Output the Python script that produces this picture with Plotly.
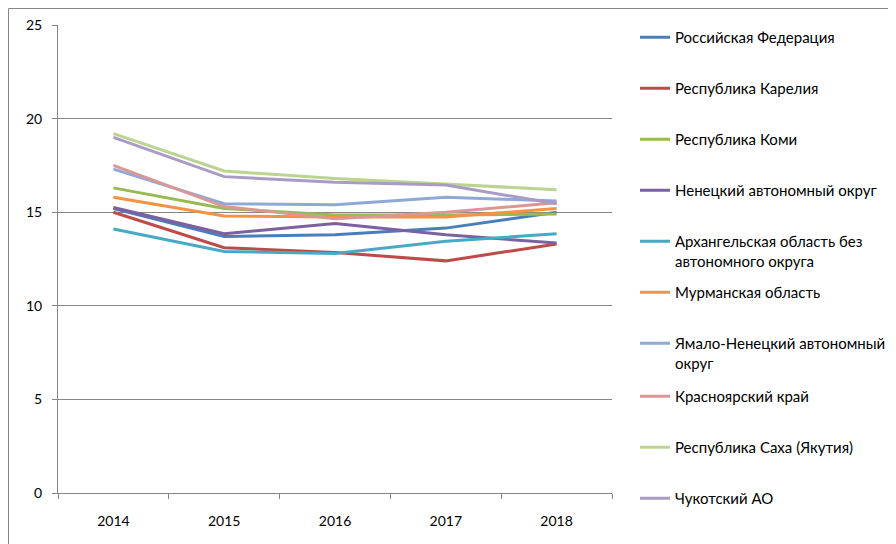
import plotly.graph_objects as go

years = ["2014", "2015", "2016", "2017", "2018"]

names = [
    "Российская Федерация",
    "Республика Карелия",
    "Республика Коми",
    "Ненецкий автономный округ",
    "Архангельская область без<br>автономного округа",
    "Мурманская область",
    "Ямало-Ненецкий автономный<br>округ",
    "Красноярский край",
    "Республика Саха (Якутия)",
    "Чукотский АО",
]

rf = [15.2, 13.7, 13.8, 14.15, 15.0]
karelia = [15.0, 13.1, 12.85, 12.4, 13.3]
komi = [16.3, 15.2, 14.85, 14.85, 14.9]
nenets = [15.25, 13.85, 14.4, 13.8, 13.35]
arkh = [14.1, 12.9, 12.8, 13.45, 13.85]
murmansk = [15.8, 14.8, 14.75, 14.75, 15.2]
yamal = [17.3, 15.45, 15.4, 15.8, 15.6]
krasnoyarsk = [17.5, 15.3, 14.65, 15.0, 15.5]
sakha = [19.2, 17.2, 16.8, 16.5, 16.2]
chukotka = [19.0, 16.9, 16.6, 16.45, 15.45]

series = [rf, karelia, komi, nenets, arkh, murmansk, yamal, krasnoyarsk, sakha, chukotka]

colors = ["#4A7EBB", "#BE4B48", "#98B954", "#7D60A0", "#46AAC5",
          "#F69240", "#8EA9D8", "#DB9794", "#BCD492", "#AA9BC6"]

# legend entry rows (page pixel y of first text line centre)
legend_rows = [38, 89, 140, 191, 242, 293, 344, 397, 448, 499]

FONT = "Lato"
W, H = 888, 536   # page body has an 8px default margin

fig = go.Figure()
layout_legends = {}
for i, (name, vals, col, row) in enumerate(zip(names, series, colors, legend_rows)):
    key = "legend" if i == 0 else f"legend{i + 1}"
    fig.add_trace(go.Scatter(
        x=years, y=vals, name=name, mode="lines",
        line=dict(color=col, width=3), legend=key,
    ))
    layout_legends[key] = dict(
        xref="container", yref="container",
        x=627 / W, y=1 - (row - 25) / H, xanchor="left", yanchor="top",
        font=dict(family=FONT, size=15, color="#000000"),
        valign="top", itemwidth=30, bgcolor="rgba(0,0,0,0)",
        borderwidth=0,
    )

fig.update_layout(
    width=W, height=H,
    margin=dict(l=50, r=284, t=17, b=51, autoexpand=False),
    paper_bgcolor="white", plot_bgcolor="white",
    font=dict(family=FONT, size=14, color="#000000"),
    showlegend=True,
    xaxis=dict(
        type="category", showgrid=False, showline=True, linecolor="#868686",
        linewidth=1, ticks="outside", tickson="boundaries", ticklen=5,
        tickcolor="#868686", tickfont=dict(family=FONT, size=14),
        range=[-0.5, 4.5], zeroline=False, ticklabelstandoff=15,
    ),
    yaxis=dict(
        range=[0, 25], dtick=5, showgrid=True, gridcolor="#868686", gridwidth=1,
        showline=True, linecolor="#868686", linewidth=1, ticks="outside",
        ticklen=5, tickcolor="#868686", tickfont=dict(family=FONT, size=14),
        zeroline=False, ticklabelstandoff=7,
    ),
    shapes=[dict(
        type="rect", xref="paper", yref="paper",
        x0=(0.5 - 50) / 554, x1=1.6, y0=-0.3, y1=1 + (17 - 0.5) / 468,
        line=dict(color="#868686", width=1), fillcolor="rgba(0,0,0,0)",
        layer="below",
    )],
    **layout_legends,
)

fig.write_html("out.html")
